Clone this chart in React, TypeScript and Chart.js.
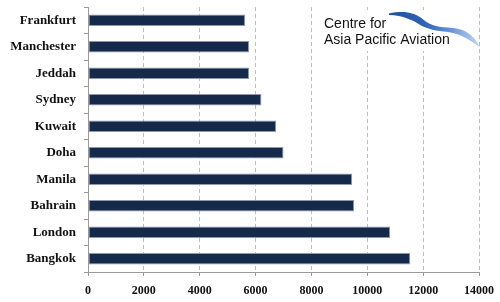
import React, { useEffect, useRef } from "react";
import { Chart, registerables } from "chart.js";

Chart.register(...registerables);

const cities = ["Frankfurt", "Manchester", "Jeddah", "Sydney", "Kuwait", "Doha", "Manila", "Bahrain", "London", "Bangkok"];
const values = [5630, 5770, 5770, 6210, 6740, 7000, 9460, 9530, 10820, 11540];
const xTicks = [0, 2000, 4000, 6000, 8000, 10000, 12000, 14000];
const logoLines = ["Centre for", "Asia Pacific Aviation"];

const logoPlugin = {
  id: "capaLogo",
  afterDatasetsDraw(chart: any) {
    const ctx = chart.ctx as CanvasRenderingContext2D;
    ctx.save();
    ctx.fillStyle = "#ffffff";
    ctx.fillRect(318, 10, 157, 41);
    // swoosh
    const g = ctx.createLinearGradient(388, 0, 480, 0);
    g.addColorStop(0, "#1f4f9e");
    g.addColorStop(0.4, "#2f63b4");
    g.addColorStop(0.7, "#6e98d4");
    g.addColorStop(1, "#c3d6f1");
    ctx.fillStyle = g;
    ctx.beginPath();
    ctx.moveTo(389, 13.5);
    ctx.bezierCurveTo(404, 10.5, 414, 12.5, 422, 18.5);
    ctx.bezierCurveTo(428, 24.5, 436, 27, 448, 27.5);
    ctx.bezierCurveTo(462, 28, 473, 32.5, 480, 47.5);
    ctx.bezierCurveTo(471, 41, 462, 34, 448, 32);
    ctx.bezierCurveTo(436, 31, 428, 29, 421, 25.5);
    ctx.bezierCurveTo(413, 20, 403, 15.5, 389, 15);
    ctx.closePath();
    ctx.fill();
    ctx.fillStyle = "#111111";
    ctx.font = "14px 'Liberation Sans', Arial, sans-serif";
    ctx.textAlign = "left";
    ctx.textBaseline = "alphabetic";
    ctx.fillText(logoLines[0], 324, 28);
    ctx.fillText(logoLines[1], 324, 44);
    ctx.restore();
  },
};

export default function App() {
  const ref = useRef<HTMLCanvasElement | null>(null);
  useEffect(() => {
    if (!ref.current) return;
    const chart = new Chart(ref.current, {
      type: "bar",
      data: {
        labels: cities,
        datasets: [
          {
            data: values,
            backgroundColor: "#15294a",
            borderColor: "#8e99ab",
            borderWidth: 1,
            borderSkipped: false,
            barPercentage: 0.43,
            categoryPercentage: 1,
          },
        ],
      },
      options: {
        indexAxis: "y",
        animation: false,
        responsive: false,
        events: [],
        layout: { padding: { top: 7, right: 21, left: 0, bottom: 0 } },
        plugins: { legend: { display: false }, tooltip: { enabled: false }, title: { display: false } },
        scales: {
          x: {
            type: "linear",
            min: 0,
            max: 14000,
            afterBuildTicks: (scale: any) => {
              scale.ticks = xTicks.map((v) => ({ value: v }));
            },
            afterFit: (scale: any) => {
              scale.height = 30;
              scale.paddingLeft = 0;
              scale.paddingRight = 0;
            },
            grid: {
              color: "#bdbdbd",
              tickColor: "#9a9a9a",
              tickLength: 4,
              drawTicks: true,
            },
            border: { color: "#9a9a9a", dash: [4, 3], display: true },
            ticks: {
              color: "#111111",
              padding: 8,
              maxRotation: 0,
              callback: (v: any) => String(v),
              font: { family: "'Liberation Serif', 'Times New Roman', serif", size: 12, weight: "bold" },
            },
          } as any,
          y: {
            type: "category",
            offset: true,
            afterFit: (scale: any) => {
              scale.width = 88;
              scale.paddingTop = 0;
              scale.paddingBottom = 0;
            },
            grid: {
              offset: true,
              drawOnChartArea: false,
              drawTicks: true,
              tickLength: 4,
              color: "#9a9a9a",
            },
            border: { color: "#9a9a9a" },
            ticks: {
              color: "#111111",
              padding: 8,
              font: { family: "'Liberation Serif', 'Times New Roman', serif", size: 13, weight: "bold" },
            },
          },
        },
      },
      plugins: [logoPlugin],
    });
    return () => chart.destroy();
  }, []);
  return (
    <div style={{ position: "absolute", left: 0, top: 0, width: 500, height: 302, background: "#fff" }}>
      <canvas ref={ref} width={500} height={302} style={{ width: 500, height: 302 }} />
    </div>
  );
}
